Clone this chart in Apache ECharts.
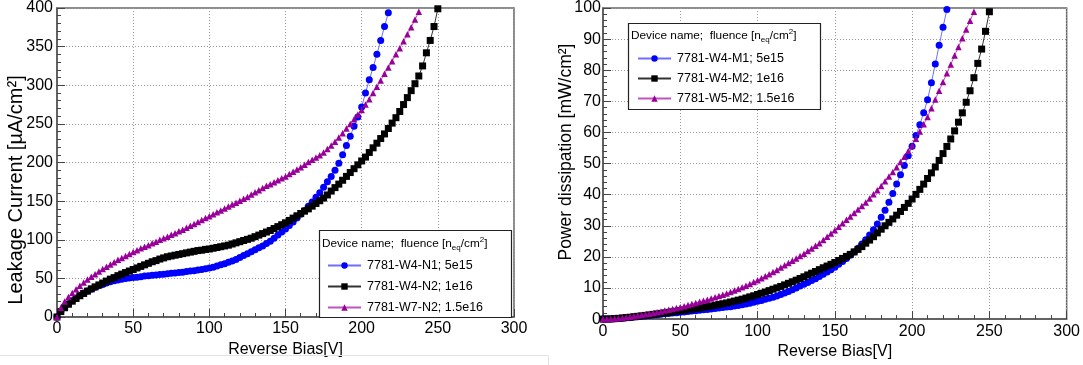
<!DOCTYPE html>
<html>
<head>
<meta charset="utf-8">
<script src="https://cdn.jsdelivr.net/npm/echarts@6/dist/echarts.min.js"></script>
<style>
  html, body { margin: 0; padding: 0; background: #fff; }
  #chart { width: 1083px; height: 365px; }
</style>
</head>
<body>
<div id="chart"></div>
<script>
// ---------------- data ----------------
const biasV = [0,2.5,5,7.5,10,12.5,15,17.5,20,22.5,25,27.5,30,32.5,35,37.5,40,42.5,45,47.5,
  50,52.5,55,57.5,60,62.5,65,67.5,70,72.5,75,77.5,80,82.5,85,87.5,90,92.5,95,97.5,
  100,102.5,105,107.5,110,112.5,115,117.5,120,122.5,125,127.5,130,132.5,135,137.5,140,142.5,145,147.5,
  150,152.5,155,157.5,160,162.5,165,167.5,170,172.5,175,177.5,180,182.5,185,187.5,190,192.5,195,197.5,
  200,202.5,205,207.5,210,212.5,215,217.5,220,222.5,225,227.5,230,232.5,235,237.5,240,242.5,245,247.5,250];

// Left panel: leakage current [uA/cm2]
const leakN1 = [0,7,13,17,21,24.5,28,31,33.5,36,
  38.5,40.5,42,44,45.5,47,48,49,50,50.5,
  51,51.5,52,53,53.5,54,54.5,55,55.5,56,
  56.5,57,57.5,58,59,59.5,60,61,61.5,62.5,
  63.5,64.5,66,67.5,69,71,72.5,74.5,77,79.5,
  82,84.5,87,89.5,92,95,98,102,106,110,
  114,118.5,123,128,133,138,143.5,149,155,161,
  168,175,182,190,199,210,222,234,247,259,
  272,290,307,323,340,358,376,394];
const leakN2 = [0,7,12,16.5,20.5,24,27.5,30.5,33.5,36.5,
  39,41.5,44,46.5,49,51,53.5,55.5,57.5,59.5,
  61.5,63.5,65.5,67.5,69.5,71.5,73,75,76.5,78,
  79,80,81,82,83,84,85,86,86.5,87.5,
  88,89,90,91,92,93,94.5,96,97.5,99,
  100.5,102,104,106,108,110,112,114.5,117,119.5,
  122,125,128,131,134,137,140,143.5,147,150.5,
  154,158,163,167.5,172,177,182,187,192,197,
  202,207,213,219,225,231,237,244,251,258,
  266,275,284,293,302,312,325,342,358,376,
  399];
const leakW7N2 = [0,12,20,26,31,36,40.5,44.5,48.5,52,
  55.5,59,62,65,68,71,74,76.5,79,81.5,
  84,86.5,89,91,93,95.5,97.5,100,102,104,
  106.5,108.5,111,113,115.5,118,120.5,123,125.5,128,
  130.5,133,135.5,138,140.5,143,145.5,148,150.5,153,
  155.5,158.5,161.5,164,167,170,172,174.5,177,179.5,
  182,185,188,191,194,197,200.5,203.5,206.5,209.5,
  213,217.5,222,227,232.5,238,244,250,256,262,
  268,275,282,290,298,306,315,323,331,340,
  348,357,366,375,385,395];

// Right panel: power dissipation [mW/cm2]
const powM1 = [0,0.02,0.06,0.12,0.2,0.3,0.4,0.52,0.64,0.77,
  0.9,1.03,1.16,1.29,1.42,1.55,1.68,1.81,1.94,2.07,
  2.2,2.32,2.45,2.58,2.71,2.84,2.97,3.1,3.25,3.4,
  3.55,3.7,3.85,4.0,4.2,4.4,4.6,4.85,5.1,5.4,
  5.7,6.0,6.35,6.7,7.05,7.45,7.9,8.4,8.9,9.45,
  10.0,10.6,11.2,11.8,12.4,13.0,13.7,14.4,15.1,15.9,
  16.7,17.6,18.5,19.5,20.5,21.6,22.8,24.1,25.5,27.0,
  28.7,30.6,32.7,35.0,37.6,40.4,43.4,46.4,49.4,52.5,
  55.6,59.0,62.5,66.3,70.5,76,82,88,93.8,99.5];
const powM2 = [0,0.02,0.06,0.14,0.25,0.36,0.48,0.61,0.75,0.89,
  1.04,1.19,1.35,1.51,1.67,1.84,2.0,2.17,2.34,2.52,
  2.7,2.87,3.05,3.22,3.4,3.6,3.8,4.0,4.2,4.45,
  4.7,4.95,5.2,5.5,5.8,6.1,6.4,6.77,7.15,7.5,
  7.9,8.3,8.7,9.15,9.6,10.05,10.5,11.0,11.5,12.0,
  12.5,13.05,13.6,14.2,14.75,15.3,15.9,16.5,17.05,17.6,
  18.2,18.85,19.5,20.15,20.8,21.6,22.4,23.3,24.4,25.4,
  26.5,27.7,28.9,30.0,31.1,32.2,33.4,34.6,35.9,37.2,
  38.6,40.1,41.7,43.4,45.2,47.0,48.9,51.0,53.2,55.5,
  57.9,60.5,63.3,66.3,69.7,73.4,77.6,82.2,86.8,92.5,
  98.8];
const powW5M2 = [0,0.03,0.1,0.2,0.3,0.43,0.58,0.75,0.93,1.12,
  1.32,1.53,1.75,1.98,2.22,2.47,2.73,3.0,3.27,3.55,
  3.83,4.17,4.5,4.85,5.2,5.55,5.9,6.25,6.6,7.0,
  7.4,7.8,8.2,8.7,9.2,9.7,10.2,10.75,11.3,11.9,
  12.5,13.15,13.8,14.45,15.1,15.8,16.55,17.3,18.0,18.75,
  19.5,20.25,21.0,21.85,22.7,23.55,24.4,25.45,26.5,27.55,
  28.6,29.7,30.8,31.9,33.0,34.1,35.2,36.35,37.5,38.8,
  40.1,41.45,42.8,44.3,45.8,47.3,48.8,50.5,52.2,54.0,
  55.8,58.0,60.3,62.6,65.0,67.8,70.6,73.4,76.2,79.0,
  81.8,84.7,87.5,90.3,93.1,95.9,98.8];

const xTicks = { min: 0, max: 300, step: 50 };
const yTicksLeft = { min: 0, max: 400, step: 50 };
const yTicksRight = { min: 0, max: 100, step: 10 };

const namesLeft = ['7781-W4-N1; 5e15', '7781-W4-N2; 1e16', '7781-W7-N2; 1.5e16'];
const namesRight = ['7781-W4-M1; 5e15', '7781-W4-M2; 1e16', '7781-W5-M2; 1.5e16'];

// ---------------- chart ----------------
const FONT = "'Liberation Sans', Arial, Helvetica, sans-serif";
const pair = arr => arr.map((v, i) => [biasV[i], v]);

const styles = [
  { symbol: 'circle',   size: 7,   fill: '#0000ff', line: '#6f6fff' },
  { symbol: 'rect',     size: 7,   fill: '#000000', line: '#333333' },
  { symbol: 'triangle', size: 6.5, fill: '#990099', line: '#c055c0' }
];

function mkSeries(name, arr, st, idx) {
  return {
    name, type: 'line', xAxisIndex: idx, yAxisIndex: idx,
    data: pair(arr), symbol: st.symbol, symbolSize: st.size,
    showSymbol: true, showAllSymbol: true,
    itemStyle: { color: st.fill },
    lineStyle: { color: st.line, width: 1 },
    emphasis: { disabled: true },
    animation: false
  };
}

function xAxis(idx) {
  return {
    gridIndex: idx, type: 'value', min: xTicks.min, max: xTicks.max, interval: xTicks.step,
    name: 'Reverse Bias[V]', nameLocation: 'middle', nameGap: 17,
    nameTextStyle: { fontSize: 16, fontFamily: FONT, color: '#000' },
    axisLine: { show: true, onZero: false, lineStyle: { color: '#555', width: 1.5 } },
    axisTick: { show: true, inside: true, length: 8, lineStyle: { color: '#444', width: 1 } },
    minorTick: { show: true, splitNumber: 5, length: 4, lineStyle: { color: '#444', width: 1 } },
    axisLabel: { fontSize: 16, fontFamily: FONT, color: '#000', margin: 4 },
    splitLine: { show: true, lineStyle: { color: '#999', width: 1, type: [1, 2] } }
  };
}
function yAxis(idx, t) {
  return {
    gridIndex: idx, type: 'value', min: t.min, max: t.max, interval: t.step,
    axisLine: { show: true, onZero: false, lineStyle: { color: '#555', width: 1.5 } },
    axisTick: { show: true, inside: true, length: 8, lineStyle: { color: '#444', width: 1 } },
    minorTick: { show: true, splitNumber: 5, length: 4, lineStyle: { color: '#444', width: 1 } },
    axisLabel: { fontSize: 16, fontFamily: FONT, color: '#000', margin: idx === 0 ? 4 : 2 },
    splitLine: { show: true, lineStyle: { color: '#999', width: 1, type: [1, 2] } }
  };
}

function legend(names, left, top, gap) {
  return {
    data: names, left, top, orient: 'vertical', padding: 0,
    itemWidth: 33, itemHeight: 8, itemGap: gap,
    textStyle: { fontSize: 12.5, fontFamily: FONT, color: '#000', padding: [0, 0, 0, 1] },
    selectedMode: false, z: 60
  };
}

const headerRich = {
  a: { fontSize: 11.8, fontFamily: FONT, color: '#000', lineHeight: 16, verticalAlign: 'middle' },
  s: { fontSize: 8, fontFamily: FONT, color: '#000', lineHeight: 8, verticalAlign: 'bottom', padding: [8, 0, 0, 0] },
  p: { fontSize: 8, fontFamily: FONT, color: '#000', lineHeight: 8, verticalAlign: 'top', padding: [0, 0, 6, 0] }
};
const headerText = '{a|Device name;  fluence [n}{s|eq}{a|/cm}{p|2}{a|]}';

const chart = echarts.init(document.getElementById('chart'), null, { renderer: 'canvas' });
chart.setOption({
  backgroundColor: '#fff',
  animation: false,
  grid: [
    { left: 57, top: 6, width: 457, height: 311, show: true, borderColor: '#666', borderWidth: 1.5, backgroundColor: 'transparent' },
    { left: 603, top: 7, width: 465, height: 315, show: true, borderColor: '#666', borderWidth: 1.5, backgroundColor: 'transparent' }
  ],
  xAxis: [xAxis(0), xAxis(1)],
  yAxis: [yAxis(0, yTicksLeft), yAxis(1, yTicksRight)],
  legend: [legend(namesLeft, 327, 259, 8), legend(namesRight, 637, 52, 7)],
  series: [
    mkSeries(namesLeft[0], leakN1, styles[0], 0),
    mkSeries(namesLeft[1], leakN2, styles[1], 0),
    mkSeries(namesLeft[2], leakW7N2, styles[2], 0),
    mkSeries(namesRight[0], powM1, styles[0], 1),
    mkSeries(namesRight[1], powM2, styles[1], 1),
    mkSeries(namesRight[2], powW5M2, styles[2], 1)
  ],
  graphic: [
    { type: 'text', x: 16, y: 190, rotation: Math.PI / 2, z: 60,
      style: { text: 'Leakage Current [µA/cm²]', fontSize: 20, fontFamily: FONT, fill: '#000', align: 'center', verticalAlign: 'middle' } },
    { type: 'text', x: 566, y: 152, rotation: Math.PI / 2, z: 60,
      style: { text: 'Power dissipation [mW/cm²]', fontSize: 17.5, fontFamily: FONT, fill: '#000', align: 'center', verticalAlign: 'middle' } },
    { type: 'rect', shape: { x: 319.5, y: 230.5, width: 192, height: 87 }, z: 50,
      style: { fill: '#fff', stroke: '#222', lineWidth: 1.2 } },
    { type: 'rect', shape: { x: 628.5, y: 23.5, width: 192, height: 86 }, z: 50,
      style: { fill: '#fff', stroke: '#222', lineWidth: 1.2 } },
    { type: 'text', x: 322, y: 244, z: 60,
      style: { text: headerText, rich: headerRich, verticalAlign: 'middle', align: 'left' } },
    { type: 'text', x: 631, y: 36, z: 60,
      style: { text: headerText, rich: headerRich, verticalAlign: 'middle', align: 'left' } },
    { type: 'line', shape: { x1: 0, y1: 355.5, x2: 548.5, y2: 355.5 }, z: 1, style: { stroke: '#e2e2e2', lineWidth: 1 } },
    { type: 'line', shape: { x1: 548.5, y1: 355.5, x2: 548.5, y2: 365 }, z: 1, style: { stroke: '#e2e2e2', lineWidth: 1 } }
  ]
});
</script>
</body>
</html>
